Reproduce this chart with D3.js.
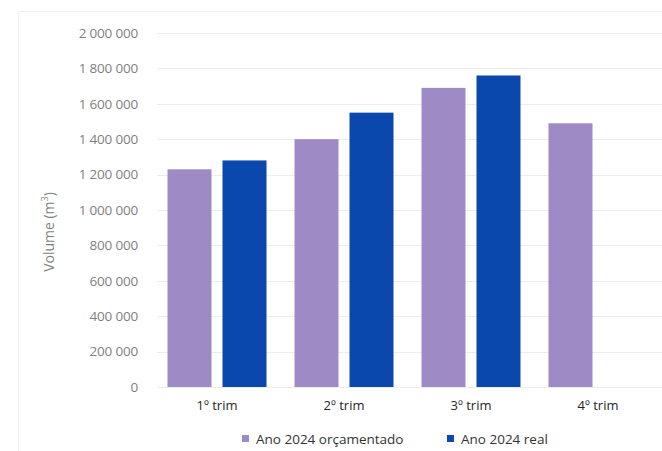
<!DOCTYPE html>
<html><head><meta charset="utf-8">
<script src="https://cdn.jsdelivr.net/npm/d3@7"></script>
<style>
html,body{margin:0;padding:0;background:#fff;}
svg{display:block;font-family:"Open Sans",sans-serif;}
</style></head>
<body>
<svg id="c" width="662" height="451"></svg>
<script>
const categories = ["1º trim", "2º trim", "3º trim", "4º trim"];
const seriesNames = ["Ano 2024 orçamentado", "Ano 2024 real"];
const orcamentado = [1230000, 1400000, 1690000, 1490000];
const real = [1280000, 1550000, 1760000, null];
const yTicks = [0, 200000, 400000, 600000, 800000, 1000000, 1200000, 1400000, 1600000, 1800000, 2000000];
const colors = ["#9e8bc6", "#0a48ae"];

const svg = d3.select("#c");
const W = 662, H = 451;

// frame
svg.append("path").attr("d", `M18.5,${H} V11.5 H${W}`).attr("fill","none").attr("stroke","#efefef").attr("stroke-width",1);

const x = d3.scaleBand().domain(categories).range([153.5, 661.5]).padding(0);
const xi = d3.scaleBand().domain([0,1]).range([14, 113]).paddingInner(0.2).paddingOuter(0);
const y = d3.scaleLinear().domain([0, 2000000]).range([387, 33]);
const fmt = v => d3.format(",")(v).replace(/,/g, " ");

// gridlines
svg.append("g").selectAll("line").data(yTicks).join("line")
  .attr("x1", 157).attr("x2", W)
  .attr("y1", d => Math.round(y(d)) + 0.5).attr("y2", d => Math.round(y(d)) + 0.5)
  .attr("stroke", "#ececec").attr("stroke-width", 1);

// y axis labels
const yAxis = d3.axisLeft(y).tickValues(yTicks).tickFormat(fmt).tickSize(0).tickPadding(0);
const ga = svg.append("g").attr("transform", "translate(138,0)").call(yAxis);
ga.select(".domain").remove();
ga.selectAll("text").attr("font-family", "Open Sans, sans-serif").attr("font-size", 13.5)
  .attr("fill", "#7f7f7f").attr("letter-spacing", "-0.2px");

// y title
svg.append("text").attr("transform", "translate(54,232) rotate(-90)")
  .attr("text-anchor", "middle").attr("font-size", 14).attr("fill", "#7f7f7f")
  .text("Volume (m").append("tspan").attr("baseline-shift", "super").attr("font-size", 9).text("3")
  .select(function(){ return this.parentNode; }).append("tspan").text(")");

// bars
const rows = categories.map((c, i) => ({c, vals: [orcamentado[i], real[i]]}));
const g = svg.append("g");
rows.forEach(r => {
  r.vals.forEach((v, s) => {
    if (v == null) return;
    g.append("rect")
      .attr("x", x(r.c) + xi(s)).attr("width", xi.bandwidth())
      .attr("y", y(v)).attr("height", y(0) - y(v))
      .attr("fill", colors[s]);
  });
});

// x axis labels
const xAxis = d3.axisBottom(x).tickSize(0).tickPadding(0);
const gx = svg.append("g").attr("transform", "translate(0,400)").call(xAxis);
gx.select(".domain").remove();
gx.selectAll("text").attr("font-family", "Open Sans, sans-serif").attr("font-size", 13)
  .attr("fill", "#262626").attr("dy", "0.75em");

// legend
const legX = [242, 447];
seriesNames.forEach((n, i) => {
  svg.append("rect").attr("x", legX[i]).attr("y", 435).attr("width", 7).attr("height", 7).attr("fill", colors[i]);
  svg.append("text").attr("x", legX[i] + 14).attr("y", 443.5).attr("font-size", 13.5)
    .attr("fill", "#333").text(n);
});
</script>
</body></html>
